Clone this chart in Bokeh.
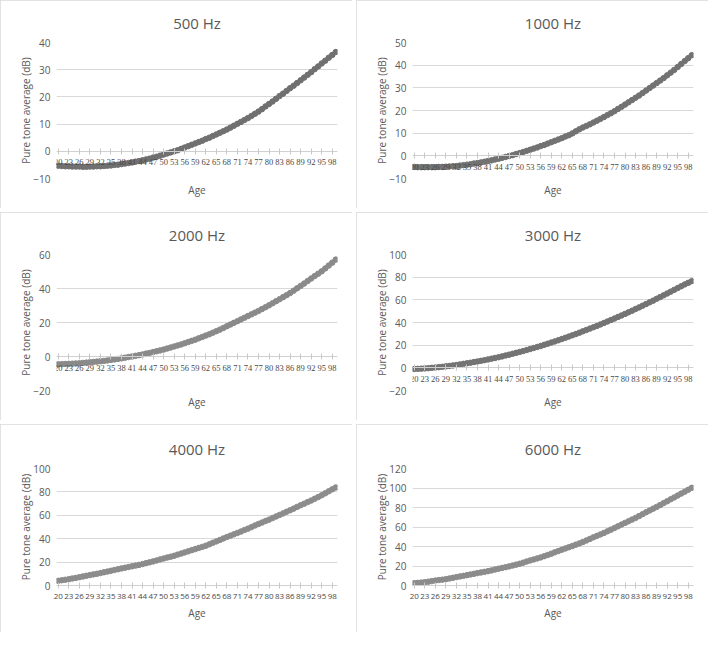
from bokeh.plotting import figure
from bokeh.models import Range1d, FixedTicker, Title, LabelSet, ColumnDataSource
from bokeh.layouts import column, row
from bokeh.embed import file_html
from bokeh.resources import INLINE

ages = list(range(20, 100))
age_ticks = list(range(20, 99, 3))
age_tick_labels = [str(a) for a in age_ticks]

hz500 = [-5.3, -5.4, -5.5, -5.5, -5.6, -5.6, -5.6, -5.7, -5.7, -5.6,
         -5.6, -5.5, -5.5, -5.4, -5.3, -5.2, -5.0, -4.9, -4.7, -4.5,
         -4.3, -4.1, -3.8, -3.6, -3.3, -3.0, -2.7, -2.3, -2.0, -1.6,
         -1.2, -0.8, -0.4, 0.0, 0.4, 0.9, 1.4, 1.9, 2.4, 2.9,
         3.4, 3.9, 4.5, 5.0, 5.6, 6.2, 6.8, 7.4, 8.0, 8.7,
         9.4, 10.1, 10.8, 11.5, 12.2, 13.0, 13.8, 14.6, 15.5, 16.5,
         17.4, 18.3, 19.3, 20.3, 21.2, 22.2, 23.2, 24.1, 25.1, 26.1,
         27.1, 28.1, 29.1, 30.2, 31.2, 32.3, 33.3, 34.4, 35.4, 36.5]

hz1000 = [-4.9, -5.0, -5.0, -5.0, -5.0, -5.0, -5.0, -4.9, -4.9, -4.8,
          -4.7, -4.6, -4.5, -4.3, -4.1, -3.9, -3.7, -3.4, -3.2, -2.9,
          -2.6, -2.3, -2.0, -1.6, -1.3, -0.9, -0.5, -0.1, 0.3, 0.8,
          1.2, 1.7, 2.2, 2.7, 3.2, 3.7, 4.3, 4.8, 5.4, 6.0,
          6.6, 7.2, 7.8, 8.5, 9.1, 9.9, 10.8, 11.7, 12.5, 13.2,
          13.9, 14.7, 15.5, 16.3, 17.1, 18.0, 18.8, 19.7, 20.7, 21.6,
          22.6, 23.6, 24.6, 25.6, 26.6, 27.7, 28.8, 29.9, 31.0, 32.1,
          33.2, 34.3, 35.5, 36.7, 37.9, 39.2, 40.5, 41.8, 43.1, 44.4]

hz2000 = [-4.6, -4.5, -4.4, -4.3, -4.2, -4.1, -4.0, -3.8, -3.6, -3.4,
          -3.2, -3.0, -2.8, -2.6, -2.3, -2.0, -1.7, -1.4, -1.1, -0.7,
          -0.3, 0.0, 0.4, 0.8, 1.2, 1.7, 2.1, 2.6, 3.1, 3.6,
          4.1, 4.7, 5.3, 5.9, 6.5, 7.1, 7.8, 8.5, 9.2, 9.9,
          10.7, 11.5, 12.3, 13.1, 14.0, 14.9, 15.8, 16.8, 17.8, 18.8,
          19.8, 20.8, 21.8, 22.8, 23.8, 24.8, 25.8, 26.8, 27.9, 29.0,
          30.1, 31.3, 32.5, 33.7, 34.9, 36.1, 37.3, 38.7, 40.1, 41.5,
          42.9, 44.4, 45.9, 47.3, 48.7, 50.1, 51.8, 53.5, 55.2, 57.0]

hz3000 = [-1.0, -0.9, -0.7, -0.5, -0.3, 0.0, 0.3, 0.6, 0.9, 1.3,
          1.7, 2.1, 2.5, 3.0, 3.5, 4.0, 4.5, 5.1, 5.6, 6.2,
          6.8, 7.4, 8.1, 8.7, 9.4, 10.1, 10.9, 11.6, 12.4, 13.2,
          14.0, 14.8, 15.7, 16.6, 17.5, 18.4, 19.3, 20.3, 21.3, 22.3,
          23.3, 24.3, 25.4, 26.5, 27.6, 28.7, 29.8, 31.0, 32.2, 33.4,
          34.6, 35.8, 37.0, 38.3, 39.6, 40.9, 42.2, 43.5, 44.9, 46.2,
          47.6, 49.0, 50.4, 51.9, 53.3, 54.8, 56.3, 57.8, 59.3, 60.9,
          62.4, 64.0, 65.6, 67.2, 68.8, 70.4, 72.0, 73.6, 75.0, 76.5]

hz4000 = [4.0, 4.5, 4.9, 5.4, 6.0, 6.5, 7.1, 7.7, 8.3, 8.9,
          9.5, 10.0, 10.6, 11.3, 11.9, 12.6, 13.3, 13.9, 14.6, 15.2,
          15.8, 16.4, 17.0, 17.6, 18.3, 19.1, 19.8, 20.6, 21.4, 22.3,
          23.1, 23.9, 24.6, 25.4, 26.4, 27.3, 28.3, 29.2, 30.2, 31.1,
          32.1, 33.0, 34.0, 35.2, 36.5, 37.7, 38.9, 40.2, 41.4, 42.6,
          43.7, 44.9, 46.1, 47.4, 48.6, 49.9, 51.3, 52.6, 53.8, 55.1,
          56.3, 57.6, 59.0, 60.3, 61.6, 63.0, 64.3, 65.7, 67.2, 68.6,
          69.9, 71.3, 72.6, 74.1, 75.6, 77.1, 78.8, 80.5, 82.2, 83.8]

hz6000 = [2.4, 2.7, 3.0, 3.4, 3.9, 4.5, 5.1, 5.6, 6.0, 6.5,
          7.2, 7.9, 8.6, 9.3, 9.9, 10.6, 11.3, 12.0, 12.7, 13.4,
          14.0, 14.7, 15.5, 16.4, 17.2, 18.0, 18.8, 19.6, 20.5, 21.4,
          22.3, 23.4, 24.6, 25.7, 26.7, 27.8, 28.8, 30.1, 31.3, 32.6,
          34.0, 35.3, 36.7, 38.0, 39.2, 40.5, 41.9, 43.2, 44.6, 46.2,
          47.8, 49.4, 50.9, 52.4, 53.9, 55.6, 57.3, 59.0, 60.7, 62.5,
          64.2, 65.9, 67.6, 69.3, 71.2, 73.2, 75.1, 76.9, 78.8, 80.6,
          82.5, 84.5, 86.4, 88.4, 90.3, 92.3, 94.3, 96.2, 98.2, 100.2]

titles = ["500 Hz", "1000 Hz", "2000 Hz", "3000 Hz", "4000 Hz", "6000 Hz"]
series = [hz500, hz1000, hz2000, hz3000, hz4000, hz6000]
y_ranges = [(-10, 40, 10), (-10, 50, 10), (-20, 60, 20),
            (-20, 100, 20), (0, 100, 20), (0, 120, 20)]
colors = ["#707070", "#727272", "#8a8a8a", "#747474", "#8c8c8c", "#8c8c8c"]

TXT = "#595959"
TICK_TXT = "#4a4a4a"
FONT = "Open Sans"


def make(title, vals, yr, color, bottom_row):
    ymin, ymax, ystep = yr
    if bottom_row:
        btop, bbot, tstand, astand = 44, 47, 20, 5
    else:
        btop, bbot, tstand, astand = 42, 30, 19, 5
    p = figure(width=352, height=208, output_backend="svg", toolbar_location=None,
               x_range=Range1d(19.5, 99.5), y_range=Range1d(ymin, ymax),
               min_border_left=56, min_border_right=15, min_border_top=btop,
               min_border_bottom=bbot)
    p.styles = {"outline": "1px solid #d9d9d9", "outline-offset": "-1px"}
    p.outline_line_color = None
    p.background_fill_color = "white"
    p.border_fill_color = "white"

    p.title.text = title
    p.title.align = "center"
    p.title.text_font = FONT
    p.title.text_font_size = "15px"
    p.title.text_font_style = "normal"
    p.title.text_color = TXT
    p.title.standoff = tstand

    p.line(ages, vals, line_color=color, line_width=2.2)
    p.scatter(ages, vals, size=5.5, fill_color=color, line_color=color)

    yticks = list(range(ymin, ymax + 1, ystep))
    yax = p.yaxis[0]
    yax.ticker = FixedTicker(ticks=yticks)
    yax.axis_line_color = None
    yax.major_tick_line_color = None
    yax.major_tick_in = 0
    yax.major_tick_out = 0
    yax.minor_tick_line_color = None
    yax.major_label_text_font = FONT
    yax.major_label_text_font_size = "10px"
    yax.major_label_text_color = TXT
    yax.major_label_standoff = 6
    yax.axis_label = "Pure tone average (dB)"
    yax.axis_label_text_font = FONT
    yax.axis_label_text_font_size = "10px"
    yax.axis_label_text_font_style = "normal"
    yax.axis_label_text_color = TXT
    yax.axis_label_standoff = -3

    xax = p.xaxis[0]
    xax.ticker = FixedTicker(ticks=age_ticks)
    xax.axis_line_color = "#d0d0d0"
    xax.major_tick_line_color = "#c8c8c8"
    xax.major_tick_in = 3
    xax.major_tick_out = 3
    xax.minor_tick_line_color = None
    if bottom_row:
        xax.major_label_text_font = FONT
        xax.major_label_text_font_size = "8px"
        xax.major_label_text_color = TICK_TXT
        xax.major_label_standoff = 5
    else:
        xax.fixed_location = 0
        xax.major_label_text_font_size = "0px"
        xax.major_label_text_alpha = 0
        src = ColumnDataSource(dict(x=age_ticks, y=[0] * len(age_ticks), t=age_tick_labels))
        p.add_layout(LabelSet(x="x", y="y", text="t", source=src, text_align="center",
                              text_baseline="top", y_offset=-8, text_font=FONT,
                              text_font_size="8.5px", text_color=TICK_TXT))

    p.ygrid.grid_line_color = "#d9d9d9"
    p.ygrid.ticker = FixedTicker(ticks=yticks)
    p.xgrid.visible = False

    p.add_layout(Title(text="Age", align="center", text_font=FONT,
                       text_font_size="10px", text_font_style="normal",
                       text_color=TXT, standoff=astand), "below")
    return p


figs = [make(t, s, r, c, i >= 4)
        for i, (t, s, r, c) in enumerate(zip(titles, series, y_ranges, colors))]
layout = column(row(figs[0], figs[1], spacing=4),
                row(figs[2], figs[3], spacing=4),
                row(figs[4], figs[5], spacing=4), spacing=4)

open("out.html", "w").write(file_html(layout, INLINE))
